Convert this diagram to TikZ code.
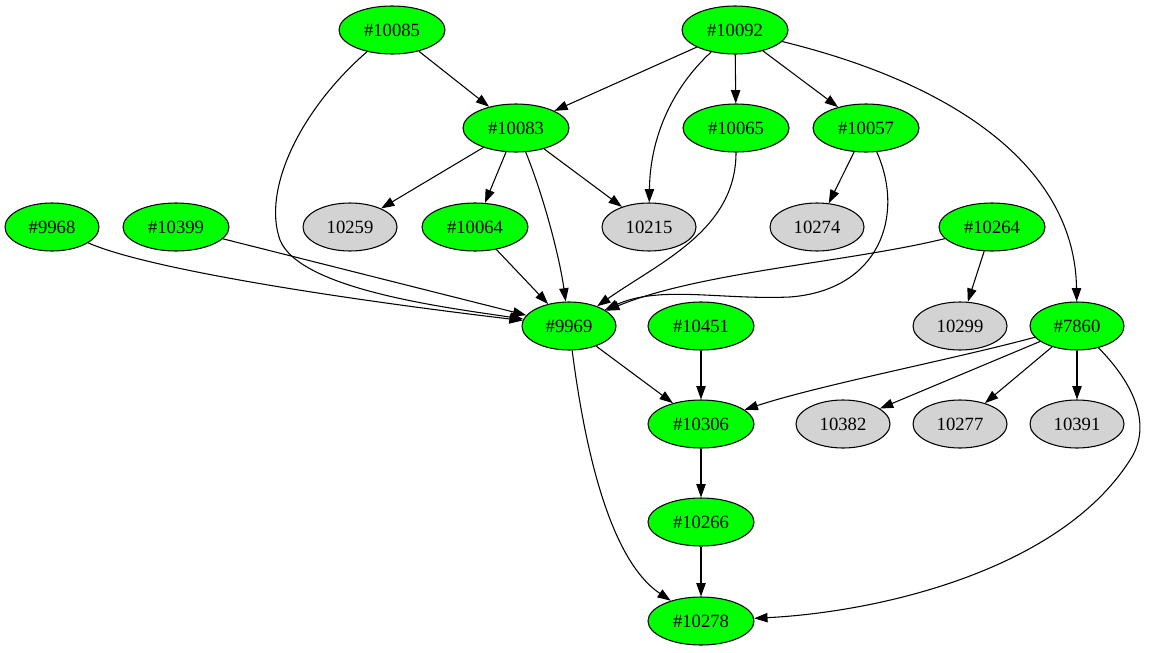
\documentclass[tikz,border=0pt]{standalone}
\usepackage{fontspec}
\setmainfont{Liberation Serif}
\usetikzlibrary{arrows.meta,shapes.geometric}
\definecolor{lgrey}{HTML}{D3D3D3}
\tikzset{
  job/.style={ellipse, draw, line width=0.8pt, fill=green, minimum width=79.5pt, minimum height=36pt, inner sep=0pt, font=\fontsize{14}{16}\selectfont},
  short/.style={minimum width=70.5pt},
  ref/.style={job, short, fill=lgrey},
  edge/.style={line width=0.8pt, -{Triangle[length=10pt,width=7pt]}}
}
\begin{document}
\begin{tikzpicture}[x=0.75pt,y=0.75pt,yscale=-1,xscale=1]
\useasboundingbox (0,0) rectangle (1149,653);

% Nodes, row 1
\node [job] (n10085) at (392,30) {\#10085};
\node [job] (n10092) at (735,30) {\#10092};
% row 2
\node [job] (n10083) at (516,128) {\#10083};
\node [job] (n10065) at (736,128) {\#10065};
\node [job] (n10057) at (866,128) {\#10057};
% row 3
\node [job,short] (n9968) at (52,227) {\#9968};
\node [job] (n10399) at (176,227) {\#10399};
\node [ref] (n10259) at (350,227) {10259};
\node [job] (n10064) at (475,227) {\#10064};
\node [ref] (n10215) at (649,227) {10215};
\node [ref] (n10274) at (817,227) {10274};
\node [job] (n10264) at (992,227) {\#10264};
% row 4
\node [job,short] (n9969) at (569,326) {\#9969};
\node [job] (n10451) at (701,326) {\#10451};
\node [ref] (n10299) at (960,326) {10299};
\node [job,short] (n7860) at (1077,326) {\#7860};
% row 5
\node [job] (n10306) at (701,424) {\#10306};
\node [ref] (n10382) at (843,424) {10382};
\node [ref] (n10277) at (960,424) {10277};
\node [ref] (n10391) at (1077,424) {10391};
% rows 6 and 7
\node [job] (n10266) at (701,522) {\#10266};
\node [job] (n10278) at (701,621) {\#10278};

% Straight edges
\draw [edge] (n10085) -- (n10083);
\draw [edge] (n10092) -- (n10083);
\draw [edge] (n10092) -- (n10065);
\draw [edge] (n10092) -- (n10057);
\draw [edge] (n10083) -- (n10259);
\draw [edge] (n10083) -- (n10064);
\draw [edge] (n10083) -- (n10215);
\draw [edge] (n10057) -- (n10274);
\draw [edge] (n10064) -- (n9969);
\draw [edge] (n10399) -- (n9969);
\draw [edge] (n10264) -- (n10299);
\draw [edge] (n9969) -- (n10306);
\draw [edge] (n10451) -- (n10306);
\draw [edge] (n7860) -- (n10382);
\draw [edge] (n7860) -- (n10277);
\draw [edge] (n7860) -- (n10391);
\draw [edge] (n10306) -- (n10266);
\draw [edge] (n10266) -- (n10278);

% Curved edges
\draw [edge] (n10085) .. controls (300,110) and (262,190) .. (280,240) .. controls (300,290) and (450,308) .. (n9969);
\draw [edge] (n10092) .. controls (670,90) and (650,140) .. (n10215);
\draw [edge] (n10092) .. controls (960,85) and (1075,170) .. (n7860);
\draw [edge] (n10083) .. controls (545,200) and (560,260) .. (n9969);
\draw [edge] (n10065) .. controls (736,230) and (660,262) .. (n9969);
\draw [edge] (n10057) .. controls (905,215) and (880,290) .. (790,297) .. controls (720,300) and (660,285) .. (n9969);
\draw [edge] (n10264) .. controls (850,262) and (700,272) .. (n9969);
\draw [edge] (n9968) .. controls (150,270) and (350,300) .. (n9969);
\draw [edge] (n9969) .. controls (585,450) and (610,560) .. (n10278);
\draw [edge] (n7860) .. controls (950,360) and (820,385) .. (n10306);
\draw [edge] (n7860) .. controls (1140,390) and (1150,430) .. (1130,460) .. controls (1060,570) and (880,612) .. (n10278);

\end{tikzpicture}
\end{document}
